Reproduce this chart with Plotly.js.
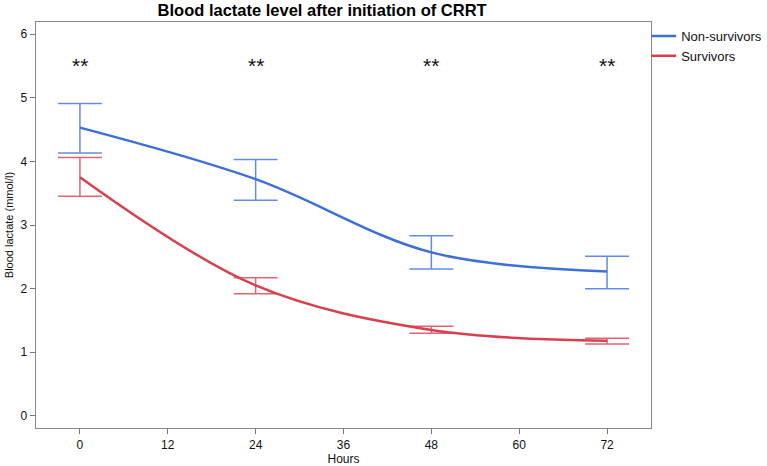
<!DOCTYPE html>
<html>
<head>
<meta charset="utf-8">
<script src="https://cdn.plot.ly/plotly-3.0.1.min.js"></script>
<style>html,body{margin:0;padding:0;background:#fff;}#chart{width:767px;height:466px;}</style>
</head>
<body>
<div id="chart"></div>
<script>
const hours = [0, 24, 48, 72];
const nonSurvMean = [4.53, 3.72, 2.57, 2.27];
const nonSurvUpper = [4.91, 4.03, 2.83, 2.51];
const nonSurvLower = [4.13, 3.39, 2.31, 2.00];
const survMean = [3.75, 2.05, 1.35, 1.18];
const survUpper = [4.06, 2.17, 1.41, 1.22];
const survLower = [3.45, 1.92, 1.30, 1.13];
const sigLabels = ["**", "**", "**", "**"];
const sigLevel = 5.5;
const xTicks = [0, 12, 24, 36, 48, 60, 72];
const yTicks = [0, 1, 2, 3, 4, 5, 6];

const blue = "#3d6fdb";
const red = "#d8404f";
const font = "Liberation Sans, Arial, Helvetica, sans-serif";

function errs(mean, up, lo) {
  return {
    type: "data", symmetric: false,
    array: mean.map((m, i) => up[i] - m),
    arrayminus: mean.map((m, i) => m - lo[i])
  };
}

const traces = [
  {
    x: hours, y: nonSurvMean, name: "Non-survivors", mode: "lines",
    line: {color: blue, width: 2.5, shape: "spline", smoothing: 1},
    error_y: Object.assign(errs(nonSurvMean, nonSurvUpper, nonSurvLower), {color: "rgba(61,111,219,0.8)", thickness: 1.5, width: 22})
  },
  {
    x: hours, y: survMean, name: "Survivors", mode: "lines",
    line: {color: red, width: 2.5, shape: "spline", smoothing: 1},
    error_y: Object.assign(errs(survMean, survUpper, survLower), {color: "rgba(216,64,79,0.8)", thickness: 1.5, width: 22})
  }
];

const annotations = hours.map((h, i) => ({
  x: h, y: sigLevel, xref: "x", yref: "y", text: sigLabels[i], showarrow: false,
  font: {family: font, size: 21, color: "#111"}
}));

const layout = {
  width: 767, height: 466,
  margin: {l: 36, r: 116, t: 22, b: 38},
  paper_bgcolor: "#fff", plot_bgcolor: "#fff",
  title: {text: "<b>Blood lactate level after initiation of CRRT</b>", font: {family: font, size: 16.5, color: "#000"}, x: 0.42, xanchor: "center", y: 0.978, yanchor: "middle"},
  font: {family: font, color: "#111"},
  xaxis: {
    range: [-6, 78], tickvals: xTicks, ticks: "outside", ticklen: 5, tickcolor: "#777",
    showgrid: false, zeroline: false, showline: true, linecolor: "#888", linewidth: 1.3, mirror: true,
    tickfont: {size: 12, family: font, color: "#111"},
    title: {text: "Hours", font: {size: 12, family: font, color: "#111"}, standoff: 2}
  },
  yaxis: {
    range: [-0.19, 6.19], tickvals: yTicks, ticks: "outside", ticklen: 5, tickcolor: "#777",
    showgrid: false, zeroline: false, showline: true, linecolor: "#888", linewidth: 1.3, mirror: true,
    tickfont: {size: 12, family: font, color: "#111"},
    title: {text: "Blood lactate (mmol/l)", font: {size: 11, family: font, color: "#111"}, standoff: 4}
  },
  showlegend: true,
  legend: {x: 0.849, xanchor: "left", y: 0.955, yanchor: "top", xref: "container", yref: "container",
    indentation: -10, font: {family: font, size: 13, color: "#111"}, itemwidth: 30, tracegroupgap: 0, bgcolor: "rgba(0,0,0,0)"},
  annotations: annotations
};

Plotly.newPlot("chart", traces, layout, {displayModeBar: false, staticPlot: true});
</script>
</body>
</html>
